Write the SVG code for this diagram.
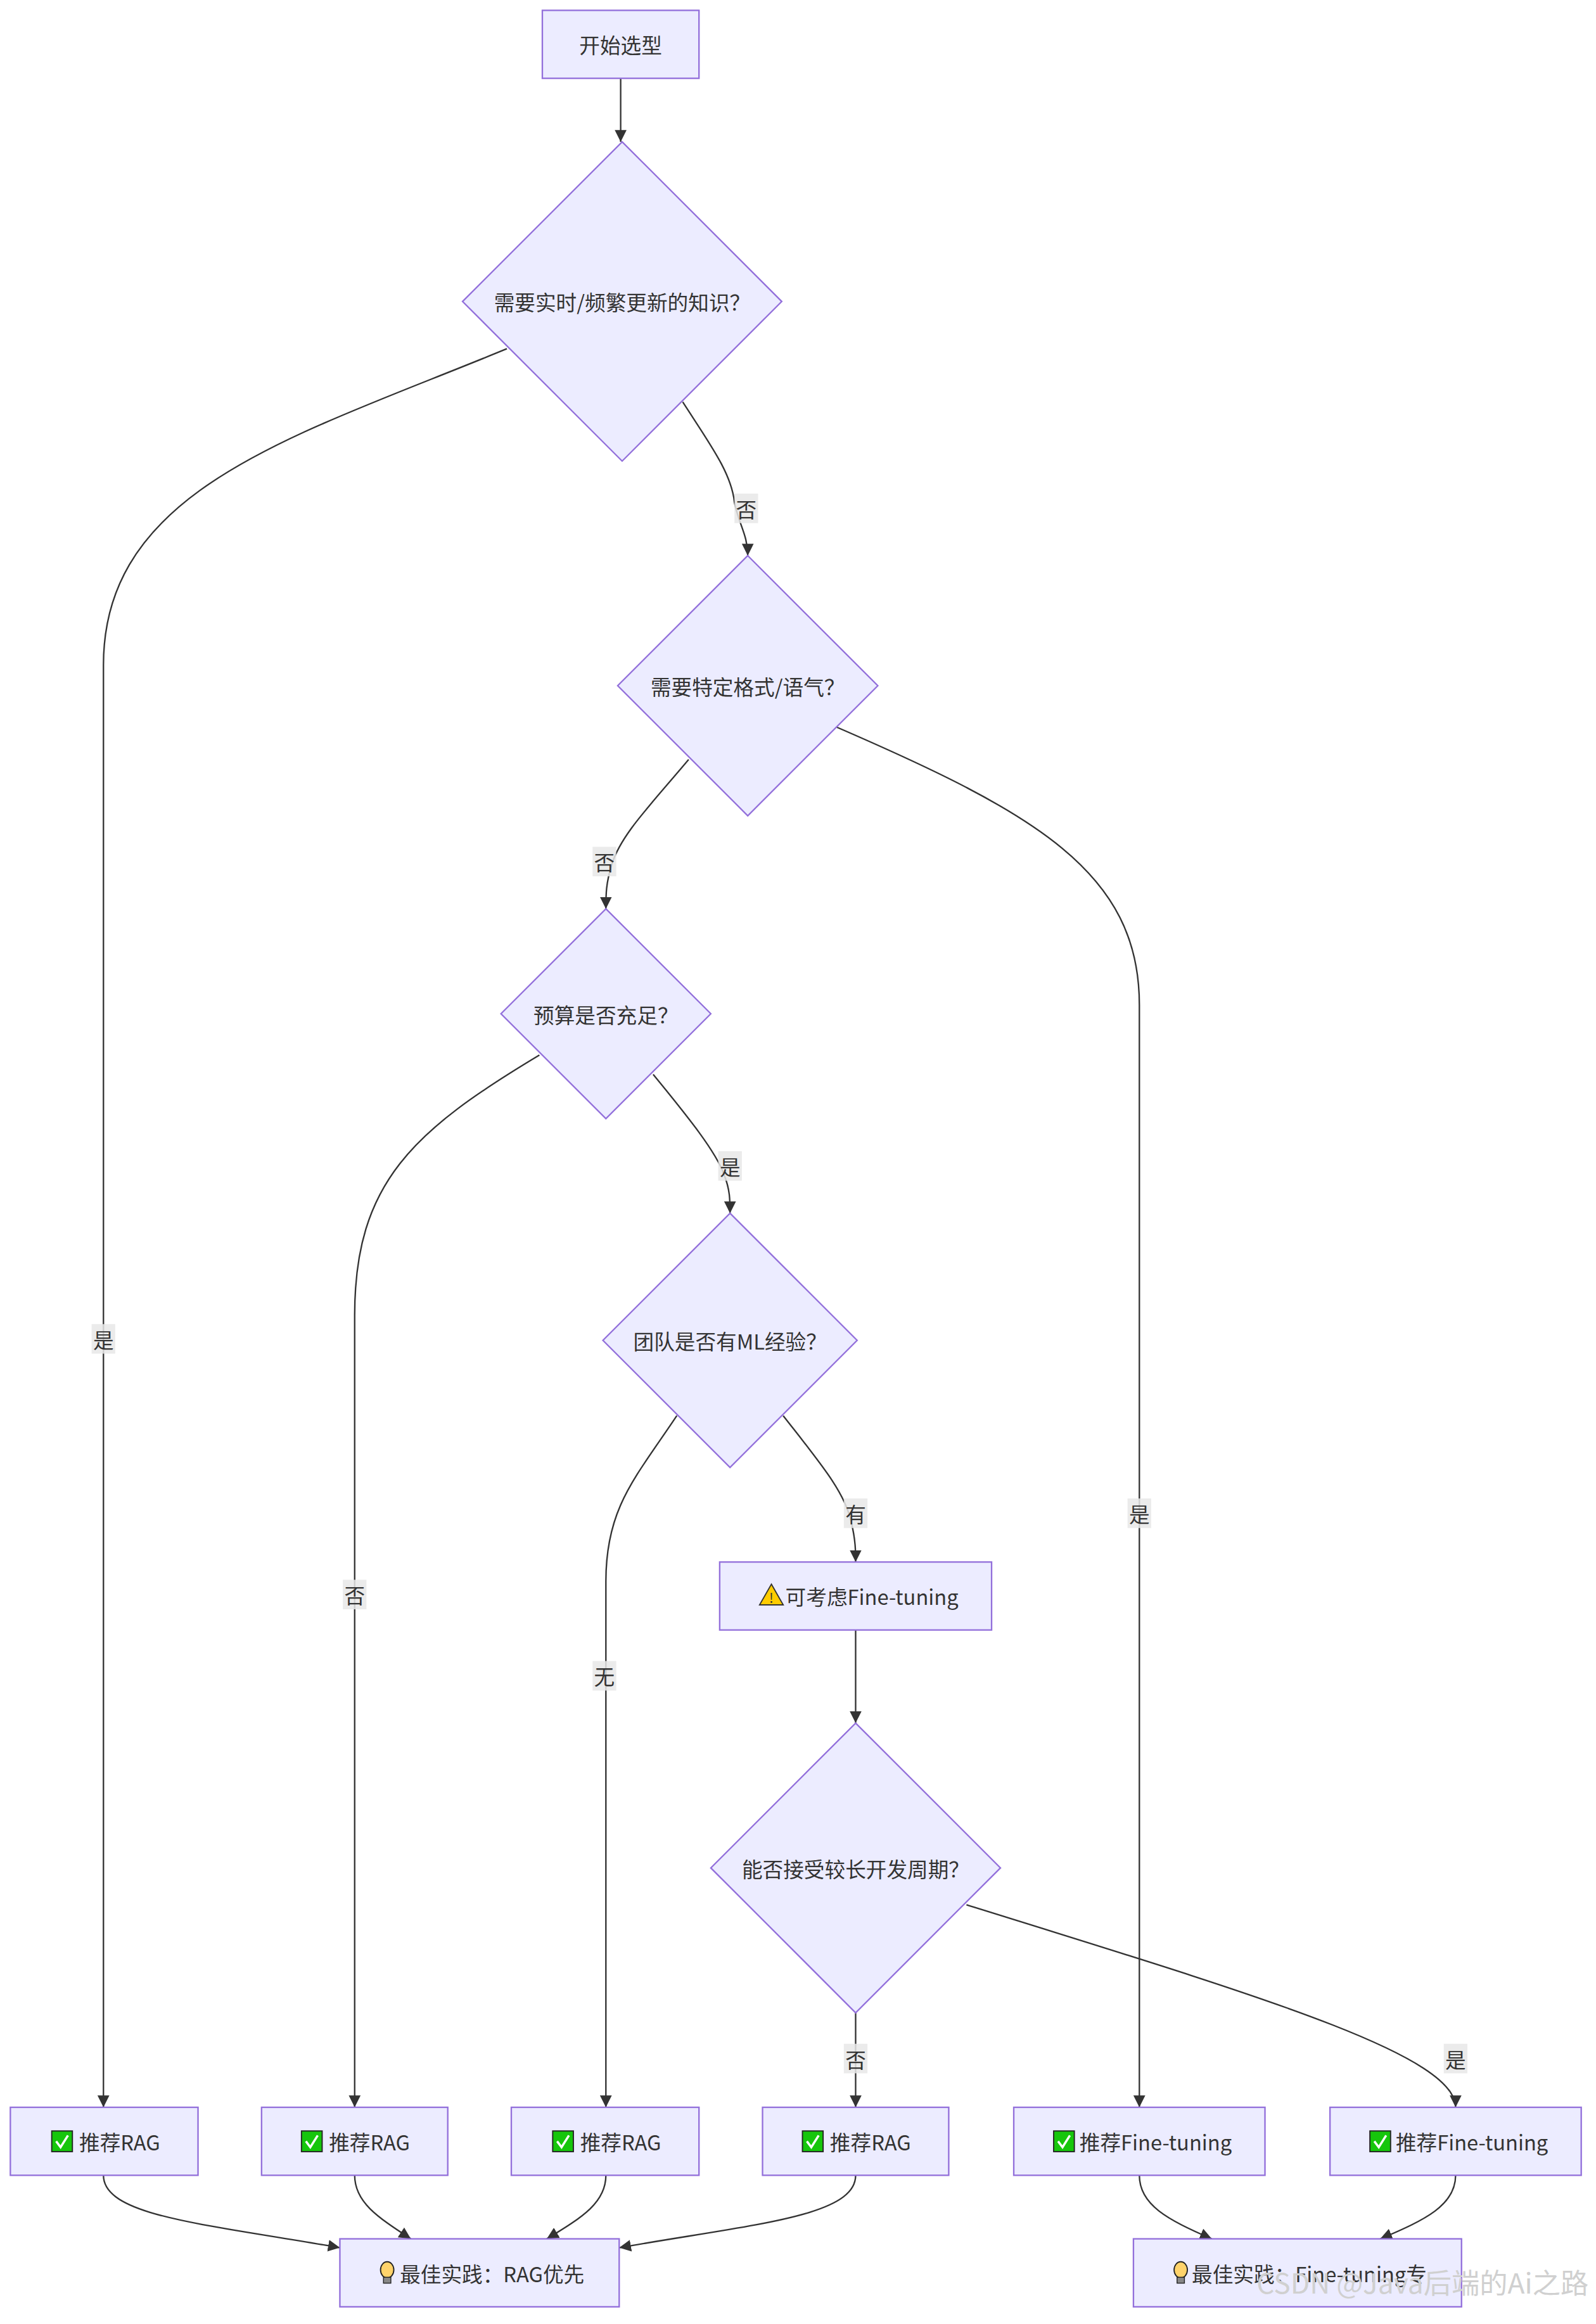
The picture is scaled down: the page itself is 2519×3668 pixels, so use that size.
<svg xmlns="http://www.w3.org/2000/svg" width="2519" height="3668" viewBox="0 0 2519 3668">
<defs>
<style>
.n{fill:#ECECFF;stroke:#9370DB;stroke-width:1}
.t{font-family:"Noto Sans CJK SC","Noto Sans",sans-serif;font-size:14px;fill:#333;text-anchor:middle;dominant-baseline:central}
.e{fill:none;stroke:#333;stroke-width:1}
.lb{fill:#e8e8e8;opacity:0.85}
.ok{fill:#16c60c;stroke:#222;stroke-width:0.8}
</style>
<marker id="a" viewBox="0 0 10 10" refX="10" refY="5" markerWidth="8" markerHeight="8" markerUnits="userSpaceOnUse" orient="auto"><path d="M0,0L10,5L0,10z" fill="#333"/></marker>
<g id="chk"><rect class="ok" x="-7" y="-7" width="14" height="14"/><path d="M-4,0L-1,4L4,-4" fill="none" stroke="#fff" stroke-width="1.5"/></g>
<g id="bulb"><ellipse cx="0" cy="-2" rx="4.5" ry="5.5" fill="#ffd36b" stroke="#222" stroke-width="0.8"/><rect x="-2.5" y="3" width="5" height="4" fill="#888" stroke="#222" stroke-width="0.6"/></g>
</defs>
<rect width="2519" height="3668" fill="#fff"/>
<g transform="scale(2.3324)">
<g id="edges">
<path class="e" marker-end="url(#a)" d="M420,53L420,96"/>
<path class="e" marker-end="url(#a)" d="M343,236C200,295 70,330 70,450L70,1426"/>
<path class="e" marker-end="url(#a)" d="M462,272C480,300 495,320 497,340C500,355 506,362 506,376"/>
<path class="e" marker-end="url(#a)" d="M466,514C440,545 420,565 414,585C410,598 410,605 410,615"/>
<path class="e" marker-end="url(#a)" d="M566,492C700,550 771,590 771,680L771,1426"/>
<path class="e" marker-end="url(#a)" d="M365,714C280,765 240,800 240,890L240,1426"/>
<path class="e" marker-end="url(#a)" d="M442,727C465,755 485,780 490,795C494,805 494,812 494,821"/>
<path class="e" marker-end="url(#a)" d="M458,958C430,1000 410,1020 410,1070L410,1426"/>
<path class="e" marker-end="url(#a)" d="M530,958C555,990 572,1010 576,1030C579,1042 579,1050 579,1057"/>
<path class="e" marker-end="url(#a)" d="M579,1103L579,1166"/>
<path class="e" marker-end="url(#a)" d="M579,1362L579,1426"/>
<path class="e" marker-end="url(#a)" d="M654,1289C850,1350 985,1390 985,1426"/>
<path class="e" marker-end="url(#a)" d="M70,1472C70,1500 140,1505 230,1521"/>
<path class="e" marker-end="url(#a)" d="M240,1472C240,1490 255,1500 278,1515"/>
<path class="e" marker-end="url(#a)" d="M410,1472C410,1490 395,1500 370,1515"/>
<path class="e" marker-end="url(#a)" d="M579,1472C579,1500 510,1505 419,1521"/>
<path class="e" marker-end="url(#a)" d="M771,1472C771,1492 790,1502 820,1515"/>
<path class="e" marker-end="url(#a)" d="M985,1472C985,1492 965,1502 934,1515"/>
<rect class="lb" x="62" y="896" width="16" height="20"/><text class="t" x="70" y="906">是</text>
<rect class="lb" x="497" y="334" width="16" height="20"/><text class="t" x="505" y="344">否</text>
<rect class="lb" x="401" y="573" width="16" height="20"/><text class="t" x="409" y="583">否</text>
<rect class="lb" x="763" y="1014" width="16" height="20"/><text class="t" x="771" y="1024">是</text>
<rect class="lb" x="232" y="1069" width="16" height="20"/><text class="t" x="240" y="1079">否</text>
<rect class="lb" x="486" y="779" width="16" height="20"/><text class="t" x="494" y="789">是</text>
<rect class="lb" x="401" y="1124" width="16" height="20"/><text class="t" x="409" y="1134">无</text>
<rect class="lb" x="571" y="1014" width="16" height="20"/><text class="t" x="579" y="1024">有</text>
<rect class="lb" x="571" y="1383" width="16" height="20"/><text class="t" x="579" y="1393">否</text>
<rect class="lb" x="977" y="1383" width="16" height="20"/><text class="t" x="985" y="1393">是</text>
</g>
<g id="start"><rect class="n" x="367" y="7" width="106" height="46"/><text class="t" x="420" y="30">开始选型</text></g>
<g id="d1"><path class="n" d="M421,96L529,204L421,312L313,204z"/><text class="t" x="421" y="204">需要实时/频繁更新的知识？</text></g>
<g id="d2"><path class="n" d="M506,376L594,464L506,552L418,464z"/><text class="t" x="506" y="464">需要特定格式/语气？</text></g>
<g id="d3"><path class="n" d="M410,615L481,686L410,757L339,686z"/><text class="t" x="410" y="686">预算是否充足？</text></g>
<g id="d4"><path class="n" d="M494,821L580,907L494,993L408,907z"/><text class="t" x="494" y="907">团队是否有ML经验？</text></g>
<g id="warn"><rect class="n" x="487" y="1057" width="184" height="46"/><path d="M522,1072L530,1086L514,1086z" fill="#ffcc00" stroke="#333" stroke-width="0.8"/><text class="t" x="522" y="1081" style="font-size:9px">!</text><text class="t" x="590" y="1080">可考虑Fine-tuning</text></g>
<g id="d5"><path class="n" d="M579,1166L677,1264L579,1362L481,1264z"/><text class="t" x="579" y="1264">能否接受较长开发周期？</text></g>
<g id="r1"><rect class="n" x="7" y="1426" width="127" height="46"/><use href="#chk" x="42" y="1449"/><text class="t" x="81" y="1449">推荐RAG</text></g>
<g id="r2"><rect class="n" x="177" y="1426" width="126" height="46"/><use href="#chk" x="211" y="1449"/><text class="t" x="250" y="1449">推荐RAG</text></g>
<g id="r3"><rect class="n" x="346" y="1426" width="127" height="46"/><use href="#chk" x="381" y="1449"/><text class="t" x="420" y="1449">推荐RAG</text></g>
<g id="r4"><rect class="n" x="516" y="1426" width="126" height="46"/><use href="#chk" x="550" y="1449"/><text class="t" x="589" y="1449">推荐RAG</text></g>
<g id="f1"><rect class="n" x="686" y="1426" width="170" height="46"/><use href="#chk" x="720" y="1449"/><text class="t" x="782" y="1449">推荐Fine-tuning</text></g>
<g id="f2"><rect class="n" x="900" y="1426" width="170" height="46"/><use href="#chk" x="934" y="1449"/><text class="t" x="996" y="1449">推荐Fine-tuning</text></g>
<g id="b1"><rect class="n" x="230" y="1515" width="189" height="46"/><use href="#bulb" x="262" y="1538"/><text class="t" x="333" y="1538">最佳实践：RAG优先</text></g>
<g id="b2"><rect class="n" x="767" y="1515" width="222" height="46"/><use href="#bulb" x="799" y="1538"/><text class="t" x="886" y="1538">最佳实践：Fine-tuning专</text></g>
<text x="1075" y="1552" style="font-family:'Noto Sans CJK SC',sans-serif;font-size:19px;fill:#d0d0d0;text-anchor:end">CSDN @Java后端的Ai之路</text>
</g>
</svg>
